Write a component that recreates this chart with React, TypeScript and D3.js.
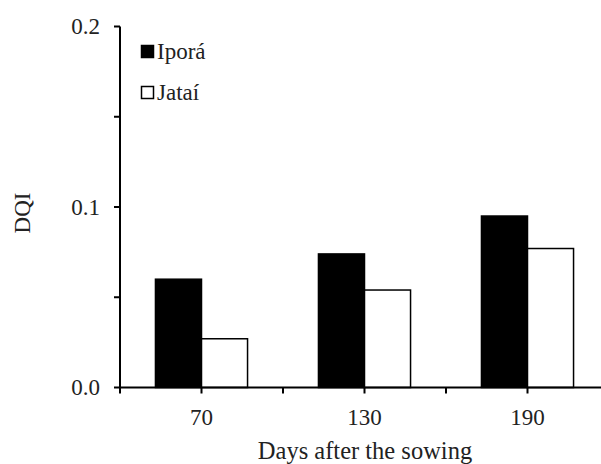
import * as d3 from "d3";

const days = ["70", "130", "190"];
const series = ["Iporá", "Jataí"];
const ipora = [0.06, 0.074, 0.095];
const jatai = [0.027, 0.054, 0.077];
const yTicks = [0, 0.05, 0.1, 0.15, 0.2];
const yLabels = [0, 0.1, 0.2];

const W = 601;
const H = 464;
const FONT = '"Liberation Serif", "DejaVu Serif", serif';
const FS = 23;

export default function App() {
  const left = 120;
  const y = d3.scaleLinear().domain([0, 0.2]).range([387.5, 26.5]);
  const x = d3.scaleBand().domain(days).range([left, 609]).padding(0);
  const x1 = d3
    .scaleBand()
    .domain(series)
    .range([0, x.bandwidth()])
    .paddingInner(0)
    .paddingOuter(0.77);
  const fills = ["#000", "#fff"];
  const values = [ipora, jatai];

  // x ticks at band edges and centres
  const xTicks: number[] = [];
  days.forEach((d) => {
    xTicks.push(x(d)!);
    xTicks.push(x(d)! + x.bandwidth() / 2);
  });

  return (
    <svg
      width={W}
      height={H}
      style={{ position: "absolute", left: 0, top: 0, background: "#fff", fontFamily: FONT }}
    >
      {days.map((d, i) =>
        series.map((s, j) => {
          const v = values[j][i];
          return (
            <rect
              key={d + s}
              x={x(d)! + x1(s)!}
              y={y(v)}
              width={x1.bandwidth()}
              height={y(0) - y(v)}
              fill={fills[j]}
              stroke="#000"
              strokeWidth={1.5}
            />
          );
        })
      )}

      {/* y axis */}
      <line x1={left} x2={left} y1={y(0.2)} y2={y(0)} stroke="#000" strokeWidth={2} />
      {yTicks.map((t) => (
        <line key={t} x1={left - 6} x2={left} y1={y(t)} y2={y(t)} stroke="#000" strokeWidth={2} />
      ))}
      {yLabels.map((t) => (
        <text
          key={t}
          x={100}
          y={y(t)}
          dy="0.33em"
          textAnchor="end"
          fontSize={FS}
          fill="#222"
        >
          {d3.format(".1f")(t)}
        </text>
      ))}
      <text
        transform={`translate(30,${(y(0) + y(0.2)) / 2 + 6}) rotate(-90)`}
        textAnchor="middle"
        fontSize={FS}
        fill="#222"
      >
        DQI
      </text>

      {/* x axis */}
      <line x1={left} x2={609} y1={y(0)} y2={y(0)} stroke="#000" strokeWidth={2} />
      {xTicks.map((t) => (
        <line key={t} x1={t} x2={t} y1={y(0)} y2={y(0) + 6} stroke="#000" strokeWidth={2} />
      ))}
      {days.map((d) => (
        <text
          key={d}
          x={x(d)! + x.bandwidth() / 2}
          y={425}
          textAnchor="middle"
          fontSize={FS}
          fill="#222"
        >
          {d}
        </text>
      ))}
      <text x={365} y={459} textAnchor="middle" fontSize={24.5} fill="#222">
        Days after the sowing
      </text>

      {/* legend */}
      {series.map((s, j) => (
        <g key={s} transform={`translate(141,${45 + j * 41})`}>
          <rect x={0.5} y={0.5} width={12} height={12} fill={fills[j]} stroke="#000" strokeWidth={1.5} />
          <text x={16} y={13.5} fontSize={FS} fill="#222">
            {s}
          </text>
        </g>
      ))}
    </svg>
  );
}
